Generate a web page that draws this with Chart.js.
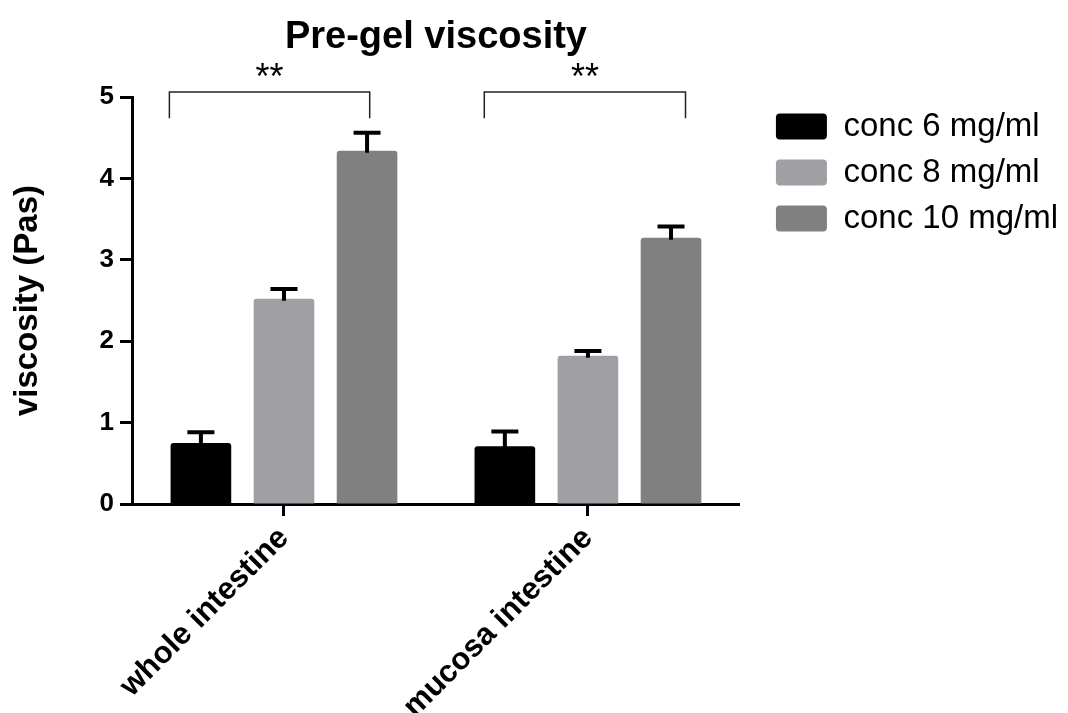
<!DOCTYPE html>
<html>
<head>
<meta charset="utf-8">
<script src="https://cdn.jsdelivr.net/npm/chart.js@4.4.1/dist/chart.umd.min.js"></script>
<style>
  html, body { margin: 0; padding: 0; background: #ffffff; }
  #wrap { width: 1068px; height: 713px; position: relative; }
</style>
</head>
<body>
<div id="wrap"><canvas id="c"></canvas></div>
<script>
const FONT = "'Liberation Sans', Arial, Helvetica, sans-serif";

const chartTitle = 'Pre-gel viscosity';
const yAxisTitle = 'viscosity (Pas)';
const categories = ['whole intestine', 'mucosa intestine'];
const seriesNames = ['conc 6 mg/ml', 'conc 8 mg/ml', 'conc 10 mg/ml'];
const conc6 = [0.75, 0.71];
const conc8 = [2.52, 1.82];
const conc10 = [4.34, 3.27];
const err6 = [0.13, 0.18];
const err8 = [0.12, 0.06];
const err10 = [0.22, 0.14];
const yTicks = [0, 1, 2, 3, 4, 5];
const sigLabels = ['**', '**'];
// bracket spans in category units (fractional index), and heights in data units
const bracketFrom = [-0.377, 0.659];
const bracketTo = [0.282, 1.321];
const bracketTop = 5.06;
const bracketLeg = 4.74;
const starLevel = 5.3;

const colors = ['#000000', '#a0a0a4', '#808080'];

const errorBars = {
  id: 'errorBars',
  afterDatasetsDraw(chart) {
    const ctx = chart.ctx;
    const y = chart.scales.y;
    const errs = [err6, err8, err10];
    ctx.save();
    ctx.strokeStyle = '#000';
    ctx.lineWidth = 4;
    ctx.lineCap = 'butt';
    chart.data.datasets.forEach((ds, di) => {
      const meta = chart.getDatasetMeta(di);
      meta.data.forEach((bar, i) => {
        const v = ds.data[i];
        const top = y.getPixelForValue(v + errs[di][i]);
        const base = y.getPixelForValue(v);
        ctx.beginPath();
        ctx.moveTo(bar.x, base + 2);
        ctx.lineTo(bar.x, top);
        ctx.moveTo(bar.x - 13.5, top);
        ctx.lineTo(bar.x + 13.5, top);
        ctx.stroke();
      });
    });
    ctx.restore();
  }
};

const annotations = {
  id: 'annotations',
  afterDraw(chart) {
    const ctx = chart.ctx;
    const x = chart.scales.x;
    const y = chart.scales.y;
    const area = chart.chartArea;
    ctx.save();
    ctx.fillStyle = '#000';
    ctx.font = 'bold 38px ' + FONT;
    ctx.textAlign = 'center';
    ctx.textBaseline = 'alphabetic';
    ctx.fillText(chartTitle, (area.left + area.right) / 2, 48);
    ctx.strokeStyle = '#222';
    ctx.lineWidth = 1.5;
    const yt = y.getPixelForValue(bracketTop);
    const yl = y.getPixelForValue(bracketLeg);
    sigLabels.forEach((lab, i) => {
      const x1 = x.getPixelForValue(bracketFrom[i]);
      const x2 = x.getPixelForValue(bracketTo[i]);
      ctx.beginPath();
      ctx.moveTo(x1, yl);
      ctx.lineTo(x1, yt);
      ctx.lineTo(x2, yt);
      ctx.lineTo(x2, yl);
      ctx.stroke();
      ctx.font = '36px ' + FONT;
      ctx.textBaseline = 'middle';
      ctx.fillText(lab, (x1 + x2) / 2, y.getPixelForValue(starLevel) + 6);
    });
    ctx.restore();
  }
};

new Chart(document.getElementById('c'), {
  type: 'bar',
  data: {
    labels: categories,
    datasets: [
      { label: seriesNames[0], data: conc6, backgroundColor: colors[0] },
      { label: seriesNames[1], data: conc8, backgroundColor: colors[1] },
      { label: seriesNames[2], data: conc10, backgroundColor: colors[2] }
    ]
  },
  options: {
    responsive: true,
    maintainAspectRatio: false,
    animation: false,
    devicePixelRatio: 1,
    layout: { padding: { top: 97, left: 0, right: 0, bottom: 0 } },
    datasets: {
      bar: { categoryPercentage: 0.82, barPercentage: 0.73, borderRadius: 3, borderSkipped: 'start' }
    },
    plugins: {
      tooltip: { enabled: false },
      title: { display: false },
      legend: {
        position: 'right',
        align: 'start',
        maxWidth: 400,
        labels: {
          boxWidth: 51,
          boxHeight: 26,
          useBorderRadius: true,
          borderRadius: 4,
          padding: 13,
          color: '#000',
          font: { family: FONT, size: 33 }
        }
      }
    },
    scales: {
      x: {
        type: 'category',
        offset: true,
        z: 1,
        grid: { display: true, drawOnChartArea: false, offset: false, drawTicks: true, tickLength: 12, tickWidth: 3, tickColor: '#000' },
        border: { display: true, color: '#000', width: 3 },
        ticks: { color: '#000', font: { family: FONT, size: 31, weight: 'bold' }, minRotation: 45, maxRotation: 45, padding: 4, autoSkip: false },
        afterFit(s) { s.height = 209; }
      },
      y: {
        min: 0,
        max: 5,
        z: 1,
        afterBuildTicks(s) { s.ticks = yTicks.map(v => ({ value: v })); },
        grid: { display: true, drawOnChartArea: false, drawTicks: true, tickLength: 12, tickWidth: 3, tickColor: '#000' },
        border: { display: true, color: '#000', width: 3 },
        ticks: { color: '#000', font: { family: FONT, size: 26, weight: 'bold' }, padding: 6 },
        title: { display: true, text: yAxisTitle, color: '#000', font: { family: FONT, size: 33, weight: 'bold' }, padding: { top: 8, bottom: 0 } },
        afterFit(s) { s.width = 132; }
      },
      spacer: {
        type: 'linear',
        position: 'right',
        display: true,
        grid: { display: false },
        border: { display: false },
        ticks: { display: false },
        afterFit(s) { s.width = 23; }
      }
    }
  },
  plugins: [errorBars, annotations]
});
</script>
</body>
</html>
